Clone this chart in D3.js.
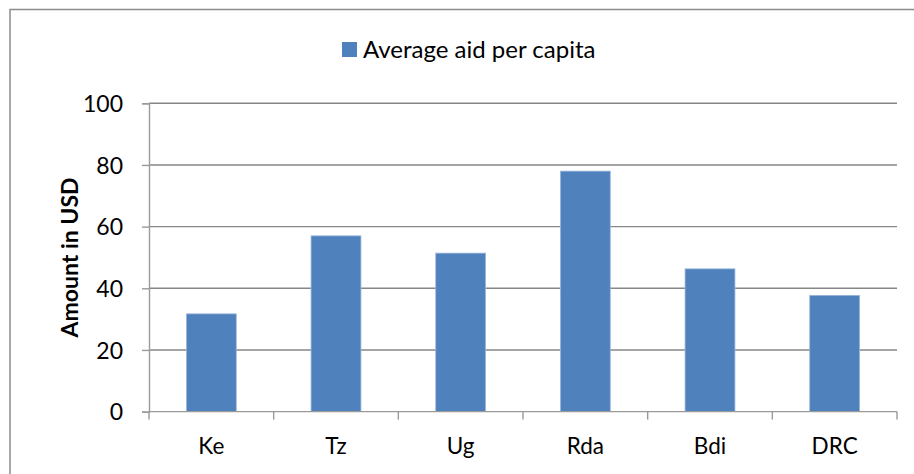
<!DOCTYPE html>
<html>
<head>
<meta charset="utf-8">
<script src="https://cdn.jsdelivr.net/npm/d3@7"></script>
<style>
  html, body { margin: 0; padding: 0; background: #fff; }
  svg { display: block; font-family: "Lato", "Open Sans", sans-serif; }
</style>
</head>
<body>
<svg id="chart" width="914" height="474"></svg>
<script>
// Average aid per capita by country (USD)
const countries = ["Ke", "Tz", "Ug", "Rda", "Bdi", "DRC"];
const aidPerCapita = [31.7, 57.0, 51.4, 78.0, 46.3, 37.7];
const yTicks = [0, 20, 40, 60, 80, 100];
const seriesName = "Average aid per capita";
const yTitle = "Amount in USD";

const svg = d3.select("#chart");
const plot = { left: 149, right: 897, top: 103.3, bottom: 411.6 };

// outer chart frame (only top and left edges fall inside the view)
svg.append("path")
  .attr("d", "M10,480 L10,9.5 L920,9.5")
  .attr("fill", "none")
  .attr("stroke", "#8c8c8c")
  .attr("stroke-width", 1.5);

const x = d3.scaleBand()
  .domain(countries)
  .range([plot.left, plot.right])
  .paddingInner(0.6)
  .paddingOuter(0.3);

const xTicksScale = d3.scaleBand().domain(countries).range([plot.left, plot.right]);

const y = d3.scaleLinear().domain([0, 100]).range([plot.bottom, plot.top]);

// horizontal gridlines
svg.append("g")
  .selectAll("line")
  .data(yTicks.filter(d => d > 0))
  .join("line")
  .attr("x1", plot.left)
  .attr("x2", plot.right)
  .attr("y1", d => y(d))
  .attr("y2", d => y(d))
  .attr("stroke", "#878787")
  .attr("stroke-width", 1.4);

// bars
svg.append("g")
  .selectAll("rect")
  .data(countries.map((c, i) => ({ c, v: aidPerCapita[i] })))
  .join("rect")
  .attr("x", d => x(d.c))
  .attr("y", d => y(d.v))
  .attr("width", x.bandwidth())
  .attr("height", d => y(0) - y(d.v))
  .attr("fill", "#4F81BD")
  .attr("stroke", "#9ab7dc")
  .attr("stroke-width", 0.8);

// y axis
const yAxis = d3.axisLeft(y).tickValues(yTicks).tickSize(7).tickPadding(19);
const gy = svg.append("g")
  .attr("transform", `translate(${plot.left},0)`)
  .call(yAxis);
gy.select(".domain").attr("stroke", "#9a9a9a").attr("stroke-width", 1.4);
gy.selectAll(".tick line").attr("stroke", "#9a9a9a").attr("stroke-width", 1.4);
gy.selectAll(".tick text")
  .attr("font-family", "Lato, 'Open Sans', sans-serif")
  .attr("font-size", 23)
  .attr("dy", "0.36em")
  .attr("fill", "#000");

// x axis with ticks at category boundaries
const gx = svg.append("g").attr("transform", `translate(0,${plot.bottom})`);
gx.append("line")
  .attr("x1", plot.left).attr("x2", plot.right)
  .attr("stroke", "#9a9a9a").attr("stroke-width", 1.4);
const boundaries = countries.map(c => xTicksScale(c)).concat([plot.right]);
gx.selectAll("line.tk")
  .data(boundaries)
  .join("line")
  .attr("class", "tk")
  .attr("x1", d => d).attr("x2", d => d)
  .attr("y1", 0).attr("y2", 8)
  .attr("stroke", "#9a9a9a").attr("stroke-width", 1.4);
gx.selectAll("text")
  .data(countries)
  .join("text")
  .attr("x", d => xTicksScale(d) + xTicksScale.bandwidth() / 2)
  .attr("y", 42)
  .attr("text-anchor", "middle")
  .attr("font-size", 22.5)
  .attr("fill", "#000")
  .text(d => d);

// y axis title
svg.append("text")
  .attr("transform", `translate(78,${(plot.top + plot.bottom) / 2}) rotate(-90)`)
  .attr("text-anchor", "middle")
  .attr("font-size", 23)
  .attr("font-weight", "bold")
  .attr("fill", "#000")
  .text(yTitle);

// legend
const legend = svg.append("g").attr("transform", "translate(342,42)");
legend.append("rect")
  .attr("width", 15).attr("height", 15)
  .attr("fill", "#4F81BD");
legend.append("text")
  .attr("x", 21).attr("y", 15.5)
  .attr("font-size", 24)
  .attr("fill", "#000")
  .text(seriesName);
</script>
</body>
</html>
